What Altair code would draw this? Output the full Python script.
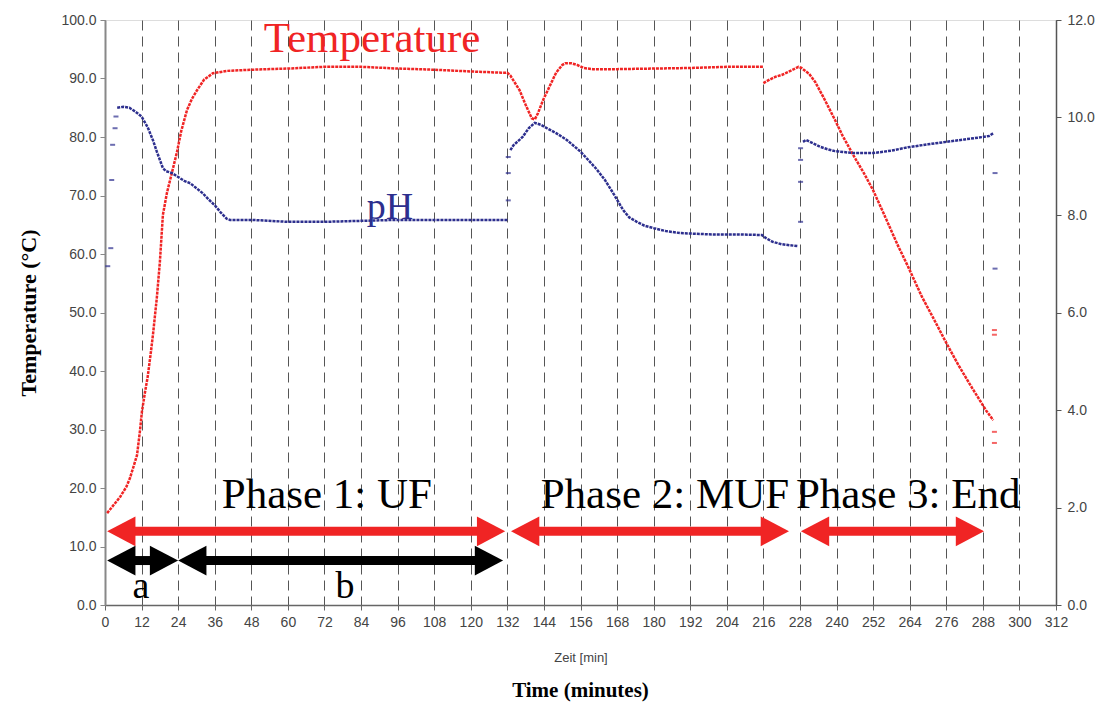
import altair as alt
import pandas as pd

RED = "#f02424"
BLUE = "#2d2f8e"
SERIF = "Liberation Serif"
SANS = "Liberation Sans"

# ---- Temperature (°C) trace, first continuous run (0–216 min)
temp_t1 = [0.7, 3, 5, 7, 8.2, 10.5, 11.5, 12.1, 13, 14, 15, 15.8, 17, 18, 19, 20.3, 22, 23.6, 25, 26.9,
           28.5, 30.2, 32.5, 35.4, 40, 48, 60, 72, 84, 96, 108, 120, 130, 132, 133, 136, 138, 140, 141,
           142, 143.7, 146, 148, 150, 151, 153, 155, 157, 160, 168, 180, 192, 204, 216]
temp_v1 = [15.7, 17.2, 18.5, 20.2, 21.7, 25.6, 29.9, 33.0, 36.0, 39.0, 43.0, 46.5, 52.5, 58.6, 66.7, 70.4,
           74.0, 77.4, 81.0, 84.6, 86.5, 88.0, 89.8, 90.9, 91.3, 91.5, 91.7, 92.0, 92.0, 91.7, 91.5, 91.2,
           91.0, 91.0, 90.5, 88.0, 85.5, 83.2, 83.0, 84.0, 86.3, 88.8, 91.0, 92.3, 92.6, 92.6, 92.3, 91.8,
           91.6, 91.6, 91.7, 91.8, 92.0, 92.0]
# ---- Temperature trace, second run (216–291 min)
temp_t2 = [216, 218, 220, 222, 224, 226, 227.5, 228.5, 231, 233, 236, 239.5, 242, 245.5, 249, 252, 256,
           260, 263.5, 268, 272, 276, 280, 284, 287, 289, 291.4]
temp_v2 = [89.2, 89.8, 90.3, 90.6, 91.1, 91.6, 92.0, 91.8, 90.8, 89.4, 86.5, 82.9, 80.2, 76.9, 73.8, 70.9,
           66.3, 61.6, 57.8, 52.7, 48.8, 44.8, 41.0, 37.5, 35.0, 33.3, 31.6]
# ---- isolated temperature readings
temp_pts_t = [291.8, 291.8, 291.8, 291.8]
temp_pts_v = [47.0, 46.2, 29.6, 27.7]

# ---- pH traces
ph_t1 = [4, 6, 8, 10, 12, 14, 15.7, 17, 19, 20, 22, 24, 26, 28, 30, 32, 34, 36, 38, 40, 41, 48, 60, 72,
         84, 96, 108, 120, 132]
ph_v1 = [10.2, 10.22, 10.2, 10.12, 10.02, 9.8, 9.54, 9.3, 8.96, 8.9, 8.86, 8.78, 8.7, 8.65, 8.55, 8.45,
         8.32, 8.2, 8.05, 7.92, 7.9, 7.9, 7.86, 7.86, 7.88, 7.9, 7.9, 7.9, 7.9]
ph_t2 = [133, 134, 137, 139, 141, 143, 145, 148, 151.5, 156, 161, 164, 166.7, 170, 172, 174.5, 177, 180,
         184, 188.6, 192, 199.5, 208, 215.5, 217, 219, 222, 227.4]
ph_v2 = [9.33, 9.43, 9.6, 9.78, 9.89, 9.85, 9.78, 9.68, 9.54, 9.3, 8.96, 8.72, 8.45, 8.1, 7.95, 7.86, 7.78,
         7.73, 7.67, 7.63, 7.62, 7.6, 7.6, 7.59, 7.52, 7.45, 7.4, 7.36]
ph_t3 = [229, 230, 232, 234.6, 237, 239.5, 245.5, 252, 258, 263.5, 270, 276, 282, 288, 290, 291.5]
ph_v3 = [9.5, 9.54, 9.48, 9.4, 9.35, 9.31, 9.27, 9.27, 9.32, 9.39, 9.45, 9.5, 9.55, 9.6, 9.62, 9.68]
# ---- isolated pH readings
ph_pts_t = [0.9, 1.9, 2.2, 2.5, 3.3, 3.6, 132.3, 132.3, 132.3, 228.2, 228.2, 228.2, 228.2, 292, 292]
ph_pts_v = [6.95, 7.32, 8.72, 9.44, 9.78, 10.02, 8.3, 8.86, 9.19, 7.86, 8.68, 9.13, 9.37, 8.86, 6.9]

# ---- annotations (in minutes / °C units)
label_text = ["Temperature", "pH", "Phase 1: UF", "Phase 2: MUF", "Phase 3: End", "a", "b"]
label_t = [87.6, 93.5, 72.8, 183.7, 263.5, 11.8, 78.7]
label_v = [94.5, 66.0, 16.6, 16.6, 16.6, 1.2, 1.2]
label_color = [RED, BLUE, "#000000", "#000000", "#000000", "#000000", "#000000"]
label_size = [43, 38, 43, 43, 43, 38, 38]

# ---- double-headed arrows: start, end (minutes), level (°C)
arrow_start = [0.7, 133.2, 228.3, 0.7, 24.0]
arrow_end = [131.3, 224.4, 288.4, 24.0, 130.6]
arrow_level = [12.6, 12.6, 12.6, 7.6, 7.6]
arrow_color = [RED, RED, RED, "#000000", "#000000"]

temp_lines = pd.DataFrame({
    "t": temp_t1 + temp_t2,
    "v": temp_v1 + temp_v2,
    "seg": ["a"] * len(temp_t1) + ["b"] * len(temp_t2),
})
temp_pts = pd.DataFrame({"t": temp_pts_t, "v": temp_pts_v})
ph_lines = pd.DataFrame({
    "t": ph_t1 + ph_t2 + ph_t3,
    "p": ph_v1 + ph_v2 + ph_v3,
    "seg": ["a"] * len(ph_t1) + ["b"] * len(ph_t2) + ["c"] * len(ph_t3),
})
ph_pts = pd.DataFrame({"t": ph_pts_t, "p": ph_pts_v})
labels = pd.DataFrame({"label": label_text, "t": label_t, "v": label_v,
                       "color": label_color, "size": label_size})
arrows = pd.DataFrame({"x1": arrow_start, "x2": arrow_end, "v": arrow_level, "color": arrow_color})


def X(field):
    return alt.X(
        f"{field}:Q",
        scale=alt.Scale(domain=[0, 312], nice=False, zero=False),
        axis=alt.Axis(values=list(range(0, 313, 12)), grid=True, gridDash=[10, 6], gridColor="#555555",
                      gridWidth=1, title="Zeit [min]", titleFont=SANS, titleFontSize=13,
                      titleFontWeight="normal", titleColor="#444444", titlePadding=22,
                      labelFont=SANS, labelFontSize=14, labelColor="#444444", labelPadding=5,
                      labelFlush=False, domainColor="#666666", domainWidth=1.5,
                      tickColor="#666666", tickSize=5),
    )


def YT(field):
    return alt.Y(
        f"{field}:Q",
        scale=alt.Scale(domain=[0, 100], nice=False, zero=False),
        axis=alt.Axis(values=list(range(0, 101, 10)), format=".1f", grid=False,
                      title="Temperature (°C)", titleFont=SERIF, titleFontSize=22,
                      titleFontWeight="bold", titleColor="#000000", titlePadding=20,
                      labelFont=SANS, labelFontSize=14, labelColor="#444444", labelPadding=4,
                      domainColor="#888888", domainWidth=2, tickColor="#888888", tickSize=5),
    )


def YP(field):
    return alt.Y(
        f"{field}:Q",
        scale=alt.Scale(domain=[0, 12], nice=False, zero=False),
        axis=alt.Axis(orient="right", values=list(range(0, 13, 2)), format=".1f", grid=False,
                      title=None, labelFont=SANS, labelFontSize=14, labelColor="#444444",
                      labelPadding=6, domainColor="#555555", domainWidth=1.5,
                      tickColor="#555555", tickSize=5),
    )


temp_line = alt.Chart(temp_lines).mark_line(color=RED, strokeWidth=2.5, strokeDash=[3, 1]).encode(
    x=X("t"), y=YT("v"), detail="seg:N", order="t:Q")
temp_tick = alt.Chart(temp_pts).mark_tick(color=RED, orient="horizontal", size=5, thickness=2).encode(
    x=X("t"), y=YT("v"))

shafts = alt.Chart(arrows).transform_calculate(
    xs="datum.x1 + 8", xe="datum.x2 - 8"
).mark_rule(strokeWidth=9).encode(
    x=X("xs"), x2="xe:Q", y=YT("v"), color=alt.Color("color:N", scale=None))
head_left = alt.Chart(arrows).mark_point(
    shape="M0,0L2,-1.05L2,1.05Z", size=800, filled=True, opacity=1, strokeWidth=0
).encode(x=X("x1"), y=YT("v"), color=alt.Color("color:N", scale=None))
head_right = alt.Chart(arrows).mark_point(
    shape="M0,0L-2,-1.05L-2,1.05Z", size=800, filled=True, opacity=1, strokeWidth=0
).encode(x=X("x2"), y=YT("v"), color=alt.Color("color:N", scale=None))

texts = alt.Chart(labels).mark_text(font=SERIF, baseline="alphabetic", align="center").encode(
    x=X("t"), y=YT("v"), text="label:N",
    color=alt.Color("color:N", scale=None), size=alt.Size("size:Q", scale=None))

ph_line = alt.Chart(ph_lines).mark_line(color=BLUE, strokeWidth=2.5, strokeDash=[3, 1]).encode(
    x=X("t"), y=YP("p"), detail="seg:N", order="t:Q")
ph_tick = alt.Chart(ph_pts).mark_tick(color=BLUE, orient="horizontal", size=5, thickness=2).encode(
    x=X("t"), y=YP("p"))

temp_group = alt.layer(temp_line, temp_tick, shafts, head_left, head_right, texts)
ph_group = alt.layer(ph_line, ph_tick)

chart = alt.layer(temp_group, ph_group).resolve_scale(y="independent").properties(
    width=951, height=585,
    autosize=alt.AutoSizeParams(type="none"),
    padding={"left": 105, "top": 20, "right": 43, "bottom": 97},
    title=alt.Title("Time (minutes)", orient="bottom", font=SERIF, fontSize=21, fontWeight="bold",
                    color="#000000", anchor="middle", offset=16),
).configure_view(stroke="#555555", strokeWidth=1).configure(background="white")

chart.save("out.html", embed_options={"renderer": "svg", "actions": False})
